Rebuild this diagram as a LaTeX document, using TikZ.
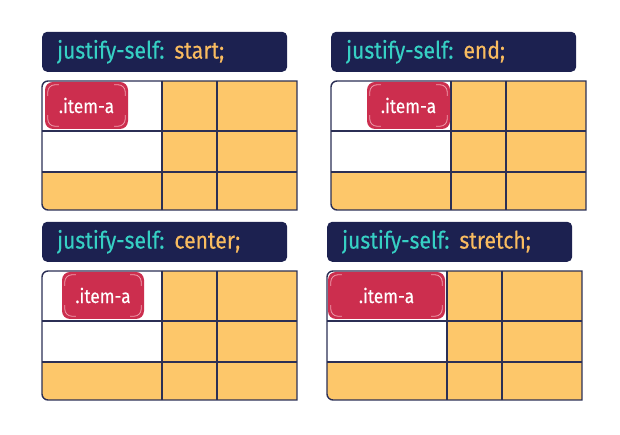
\documentclass[tikz,border=0pt]{standalone}
\usepackage{fontspec}
\setmainfont{Fira Sans}[FakeStretch=0.88,FakeBold=0.3]
\definecolor{headnavy}{HTML}{1C2150}
\definecolor{keyteal}{HTML}{36D0C4}
\definecolor{valorange}{HTML}{F9BC60}
\definecolor{gridline}{HTML}{2B2F55}
\definecolor{cellyellow}{HTML}{FDC76A}
\definecolor{itemred}{HTML}{CC2E4E}
\definecolor{itemglow}{HTML}{F0A0B0}
\newcommand\gridpanel[6]{%
	\node[headbox,anchor=south west] (#1-head) at (#2,#3+9) {\textcolor{keyteal}{justify-self:}\hspace{10pt}\textcolor{valorange}{#4;}};
	\fill[cellyellow] (#2+120,#3) rectangle (#2+255,#3-129);
	\fill[cellyellow] (#2,#3-91) -- (#2+120,#3-91) -- (#2+120,#3-129) -- (#2+6,#3-129) arc[start angle=270,end angle=180,radius=6pt] -- cycle;
	\fill[white] (#2,#3-91) -- (#2,#3-6) arc[start angle=180,end angle=90,radius=6pt] -- (#2+120,#3) -- (#2+120,#3-91) -- cycle;
	\draw[gridbar] (#2+255,#3) -- (#2+6,#3) arc[start angle=90,end angle=180,radius=6pt] -- (#2,#3-123) arc[start angle=180,end angle=270,radius=6pt] -- (#2+255,#3-129) -- cycle;
	\draw[gridbar] (#2+120,#3) -- (#2+120,#3-129) (#2+175,#3) -- (#2+175,#3-129);
	\draw[gridbar] (#2,#3-50) -- (#2+255,#3-50) (#2,#3-91) -- (#2+255,#3-91);
	\node[itembox,minimum width=#6pt-#5pt] (#1-item) at (#2+#5/2+#6/2,#3-24.5) {.item-a};
	\draw[glowline] ([shift={(3,-14)}]#1-item.north west) -- ++(0,4) arc[start angle=180,end angle=90,radius=7pt] -- ++(4,0);
	\draw[glowline] ([shift={(-3,-14)}]#1-item.north east) -- ++(0,4) arc[start angle=0,end angle=90,radius=7pt] -- ++(-4,0);
	\draw[glowline] ([shift={(3,14)}]#1-item.south west) -- ++(0,-4) arc[start angle=180,end angle=270,radius=7pt] -- ++(4,0);
	\draw[glowline] ([shift={(-3,14)}]#1-item.south east) -- ++(0,-4) arc[start angle=0,end angle=-90,radius=7pt] -- ++(-4,0);
}
\begin{document}
\begin{tikzpicture}[x=1pt,y=1pt,
		headbox/.style={fill=headnavy,rounded corners=5pt,text width=215pt,inner xsep=15pt,inner ysep=0pt,minimum height=40pt,align=left,font=\fontsize{24}{24}\selectfont},
		gridbar/.style={draw=gridline,line width=1.4pt},
		itembox/.style={fill=itemred,rounded corners=8pt,minimum height=47pt,inner sep=0pt,text=white,font=\fontsize{19.6}{19.6}\selectfont},
		glowline/.style={draw=itemglow,line width=0.8pt}]
	\useasboundingbox (0,0) rectangle (620,435);
	\gridpanel{start}{42}{354}{start}{3}{86}
	\gridpanel{end}{331}{354}{end}{36}{119}
	\gridpanel{center}{42}{164}{center}{20}{102}
	\gridpanel{stretch}{327}{164}{stretch}{1}{118}
\end{tikzpicture}
\end{document}
